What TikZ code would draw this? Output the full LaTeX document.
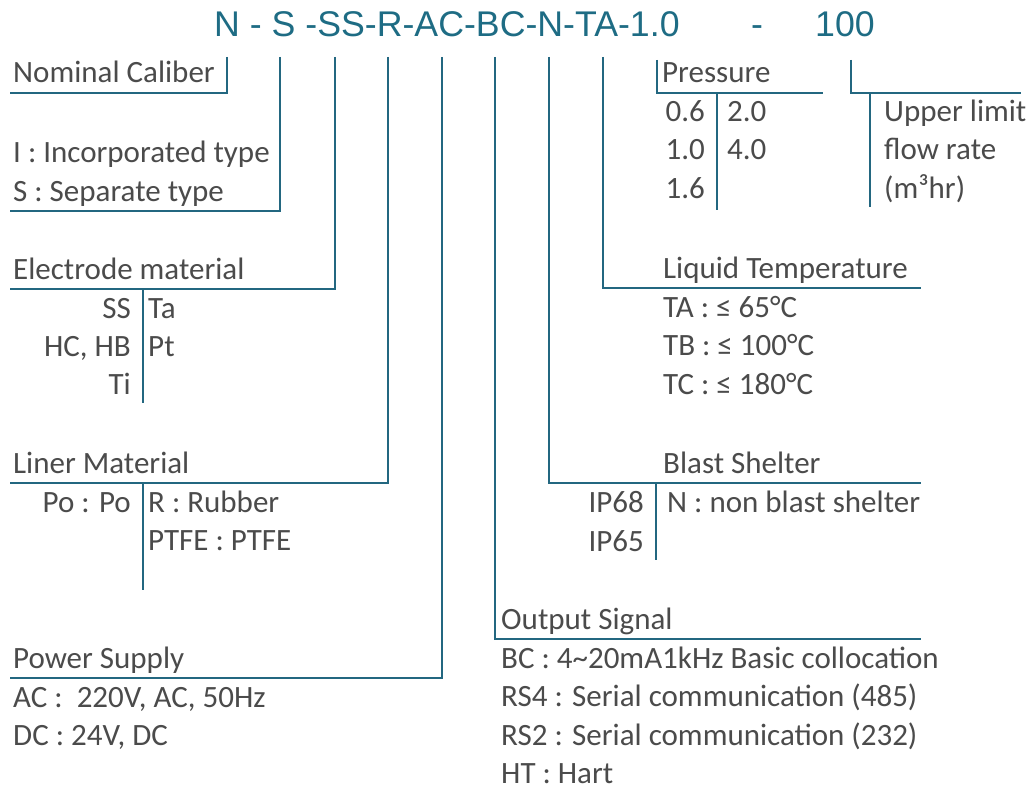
\documentclass[tikz,border=0pt]{standalone}
\usepackage{fontspec}
\setmainfont{Carlito}
\newfontfamily\titlefont{Liberation Sans}
\definecolor{lc}{RGB}{35,103,128}
\definecolor{tc}{RGB}{30,108,132}
\definecolor{gx}{RGB}{75,75,75}
\begin{document}
\begin{tikzpicture}[x=1pt,y=-1pt,
  lbl/.style={text=gx,font=\fontsize{31}{37}\selectfont,inner sep=0pt},
  lw/.style={lbl,anchor=base west},
  le/.style={lbl,anchor=base east},
  ttl/.style={text=tc,font=\titlefont\fontsize{35.7}{42}\selectfont,inner sep=0pt,anchor=base west},
  ln/.style={draw=lc,line width=2.6pt}]
\useasboundingbox[fill=white] (0,0) rectangle (1029,789);
% title
\node[ttl] (title) at (214,37) {N - S -SS-R-AC-BC-N-TA-1.0};
\node[ttl,anchor=base] (dash) at (757,37) {-};
\node[ttl] (flow) at (815,37) {100};
% tick tops
\coordinate (t1) at (227,57);
\coordinate (t2) at (280,57);
\coordinate (t3) at (335,57);
\coordinate (t4) at (388,57);
\coordinate (t5) at (442,57);
\coordinate (t6) at (495,57);
\coordinate (t7) at (549,57);
\coordinate (t8) at (603,57);
\coordinate (t9) at (657,60);
\coordinate (t10) at (851,60);
% underline ends
\coordinate (u1) at (10,93);
\coordinate (u2) at (10,211);
\coordinate (u3) at (10,289);
\coordinate (u4) at (10,483);
\coordinate (u5) at (10,678);
\coordinate (u6) at (921,639);
\coordinate (u7) at (921,483);
\coordinate (u8) at (921,288);
\coordinate (u9) at (823,93);
\coordinate (u10) at (1021,93);
\draw[ln] (t1) |- (u1);
\draw[ln] (t2) |- (u2);
\draw[ln] (t3) |- (u3);
\draw[ln] (t4) |- (u4);
\draw[ln] (t5) |- (u5);
\draw[ln] (t6) |- (u6);
\draw[ln] (t7) |- (u7);
\draw[ln] (t8) |- (u8);
\draw[ln] (t9) |- (u9);
\draw[ln] (t10) |- (u10);
% inner separators
\coordinate (e1) at (143,289); \coordinate (e2) at (143,403);
\coordinate (l1) at (143,483); \coordinate (l2) at (143,590);
\coordinate (p1) at (717,93); \coordinate (p2) at (717,210);
\coordinate (f1) at (870,93); \coordinate (f2) at (870,207);
\coordinate (b1) at (656,483); \coordinate (b2) at (656,560);
\draw[ln] (e1) -- (e2);
\draw[ln] (l1) -- (l2);
\draw[ln] (p1) -- (p2);
\draw[ln] (f1) -- (f2);
\draw[ln] (b1) -- (b2);
% left column
\node[lw] (nc) at (13,83) {Nominal Caliber};
\node[lw] (inc) at (13,163) {I : Incorporated type};
\node[lw] (sep) at (13,201) {S : Separate type};
\node[lw] (el) at (13,279) {Electrode material};
\node[le] (ss) at (131,318) {SS};
\node[le] (hc) at (131,356) {HC, HB};
\node[le] (ti) at (131,394) {Ti};
\node[lw] (ta) at (148,318) {Ta};
\node[lw] (pt) at (148,356) {Pt};
\node[lw] (lm) at (13,473) {Liner Material};
\node[le] (po) at (131,512) {Po : Po};
\node[lw] (rr) at (148,512) {R : Rubber};
\node[lw] (ptfe) at (148,550) {PTFE : PTFE};
\node[lw] (ps) at (13,668) {Power Supply};
\node[lw] (ac) at (13,707) {AC :\ \ 220V, AC, 50Hz};
\node[lw] (dc) at (13,745) {DC : 24V, DC};
% right column
\node[lw] (pr) at (662,83) {Pressure};
\node[le] (p06) at (705,122) {0.6};
\node[le] (p10) at (705,160) {1.0};
\node[le] (p16) at (705,199) {1.6};
\node[lw] (p20) at (727,122) {2.0};
\node[lw] (p40) at (727,160) {4.0};
\node[lw] (ul) at (884,122) {Upper limit};
\node[lw] (fr) at (884,160) {flow rate};
\node[lw] (un) at (884,199) {(m³hr)};
\node[lw] (lt) at (663,278) {Liquid Temperature};
\node[lw] (tA) at (663,317) {TA : ≤ 65°C};
\node[lw] (tB) at (663,355) {TB : ≤ 100°C};
\node[lw] (tC) at (663,394) {TC : ≤ 180°C};
\node[lw] (bs) at (663,473) {Blast Shelter};
\node[le] (ip68) at (644,512) {IP68};
\node[le] (ip65) at (644,551) {IP65};
\node[lw] (nb) at (667,512) {N : non blast shelter};
\node[lw] (os) at (501,629) {Output Signal};
\node[lw] (bc) at (501,668) {BC : 4\textasciitilde20mA1kHz Basic collocation};
\node[lw] (rs4) at (501,706) {RS4 : Serial communication (485)};
\node[lw] (rs2) at (501,745) {RS2 : Serial communication (232)};
\node[lw] (ht) at (501,783) {HT : Hart};
\end{tikzpicture}
\end{document}
